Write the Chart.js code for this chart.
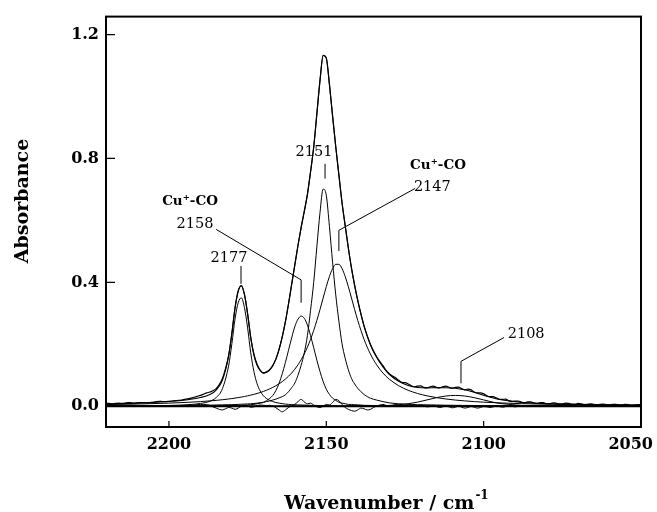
<!DOCTYPE html>
<html>
<head>
<meta charset="utf-8">
<script src="https://cdn.jsdelivr.net/npm/chart.js@4.4.1/dist/chart.umd.min.js"></script>
<style>
  html, body { margin: 0; padding: 0; background: #fff; }
  #wrap { width: 657px; height: 512px; }
</style>
</head>
<body>
<div id="wrap"><canvas id="c" width="657" height="512"></canvas></div>
<script>
// grade comum das componentes do ajuste (cm-1)
const wnFit = [
  2220, 2210, 2200, 2194, 2190, 2187, 2185, 2183, 2181, 2180,
  2179, 2178, 2177, 2176, 2175, 2174, 2173, 2172, 2171, 2170,
  2169, 2168, 2167, 2166, 2165, 2164, 2163, 2162, 2161, 2160,
  2159, 2158, 2157, 2156, 2155, 2154, 2153, 2152, 2151, 2150,
  2149, 2148, 2147, 2146, 2145, 2144, 2143, 2142, 2141, 2140,
  2138, 2136, 2134, 2132, 2130, 2127, 2124, 2121, 2118, 2115,
  2112, 2109, 2106, 2103, 2100, 2096, 2092, 2088, 2083, 2078,
  2070, 2060, 2050
];

// componente 2177
const band2177 = [
  0.0005, 0.001, 0.0025, 0.005, 0.009, 0.016, 0.028, 0.057, 0.133, 0.202,
  0.282, 0.334, 0.350, 0.318, 0.253, 0.172, 0.112, 0.073, 0.049, 0.034,
  0.025, 0.019, 0.015, 0.012, 0.010, 0.0085, 0.007, 0.006, 0.0053, 0.0047,
  0.0043, 0.004, 0.0037, 0.0034, 0.003, 0.0028, 0.0025, 0.0023, 0.002, 0.0018,
  0.0016, 0.0014, 0.0012, 0.001, 0.001, 0.001, 0.001, 0.001, 0.001, 0.001,
  0.0008, 0.0006, 0.0005, 0.0005, 0.0005, 0, 0, 0, 0, 0,
  0, 0, 0, 0, 0, 0, 0, 0, 0, 0,
  0, 0, 0
];

// componente 2158 (Cu+-CO)
const band2158 = [
  0, 0.0003, 0.0005, 0.0008, 0.001, 0.0012, 0.0014, 0.002, 0.0024, 0.0026,
  0.0028, 0.003, 0.0032, 0.0036, 0.0042, 0.005, 0.006, 0.008, 0.010, 0.012,
  0.018, 0.025, 0.035, 0.051, 0.074, 0.105, 0.141, 0.181, 0.221, 0.257,
  0.281, 0.291, 0.284, 0.262, 0.228, 0.189, 0.149, 0.112, 0.080, 0.055,
  0.038, 0.026, 0.019, 0.013, 0.010, 0.008, 0.006, 0.0055, 0.005, 0.0045,
  0.003, 0.0026, 0.0022, 0.0018, 0.0015, 0.0012, 0.001, 0.0008, 0.0006, 0.0005,
  0, 0, 0, 0, 0, 0, 0, 0, 0, 0,
  0, 0, 0
];

// componente 2151
const band2151 = [
  0.001, 0.0015, 0.002, 0.0027, 0.003, 0.0035, 0.004, 0.0045, 0.005, 0.0052,
  0.0055, 0.006, 0.0065, 0.007, 0.0075, 0.008, 0.009, 0.010, 0.0115, 0.013,
  0.015, 0.017, 0.020, 0.023, 0.027, 0.031, 0.037, 0.047, 0.060, 0.075,
  0.100, 0.132, 0.172, 0.228, 0.310, 0.400, 0.515, 0.625, 0.701, 0.681,
  0.580, 0.465, 0.360, 0.275, 0.202, 0.155, 0.118, 0.090, 0.072, 0.058,
  0.038, 0.026, 0.020, 0.015, 0.011, 0.008, 0.0065, 0.005, 0.0045, 0.004,
  0.0033, 0.003, 0.0027, 0.0024, 0.002, 0.0018, 0.0016, 0.0015, 0.0013, 0.0012,
  0.001, 0.0008, 0.0006
];

// componente 2147 (Cu+-CO)
const band2147 = [
  0.0054, 0.0072, 0.0101, 0.0127, 0.015, 0.0173, 0.019, 0.0211, 0.0235, 0.0248,
  0.0263, 0.0279, 0.0296, 0.0315, 0.0336, 0.0359, 0.0384, 0.0412, 0.0443, 0.0478,
  0.0516, 0.056, 0.0608, 0.0663, 0.0725, 0.0795, 0.0876, 0.0968, 0.1073, 0.1195,
  0.1337, 0.150, 0.169, 0.1909, 0.216, 0.2448, 0.2771, 0.3123, 0.3495, 0.3862,
  0.4191, 0.4444, 0.4582, 0.4582, 0.4444, 0.4191, 0.3862, 0.3495, 0.3123, 0.2771,
  0.216, 0.169, 0.1337, 0.1073, 0.0876, 0.0663, 0.0516, 0.0412, 0.0336, 0.0279,
  0.0235, 0.020, 0.0173, 0.015, 0.0132, 0.0113, 0.0097, 0.0084, 0.0072, 0.0062,
  0.005, 0.0039, 0.0031
];

// componente 2108
const band2108 = [
  0, 0, 0, 0, 0, 0, 0, 0, 0, 0,
  0, 0, 0, 0, 0, 0, 0, 0, 0, 0,
  0, 0, 0, 0, 0, 0, 0, 0, 0, 0,
  0, 0, 0, 0, 0, 0, 0, 0, 0, 0,
  0, 0, 0, 0, 0.0004, 0.0005, 0.0006, 0.0007, 0.0008, 0.0009,
  0.001, 0.0013, 0.0015, 0.002, 0.0027, 0.005, 0.008, 0.0133, 0.0205, 0.0277,
  0.033, 0.035, 0.033, 0.0277, 0.0205, 0.011, 0.006, 0.0027, 0.0014, 0.0009,
  0.0002, 0, 0
];

// soma do ajuste
const fitSum = [
  0.0069, 0.010, 0.0151, 0.0212, 0.028, 0.038, 0.0524, 0.0846, 0.164, 0.2346,
  0.3166, 0.3709, 0.3893, 0.3601, 0.2983, 0.2209, 0.1654, 0.1322, 0.1148, 0.1068,
  0.1096, 0.117, 0.1308, 0.1523, 0.1835, 0.224, 0.2726, 0.3308, 0.3936, 0.4562,
  0.519, 0.577, 0.6287, 0.6843, 0.757, 0.8366, 0.9436, 1.0516, 1.1325, 1.124,
  1.0387, 0.9368, 0.8384, 0.7472, 0.6578, 0.5836, 0.5118, 0.4467, 0.3911, 0.3415,
  0.2588, 0.1995, 0.1579, 0.1266, 0.1033, 0.0805, 0.0671, 0.0603, 0.0592, 0.0601,
  0.0598, 0.058, 0.053, 0.0451, 0.0357, 0.0241, 0.0173, 0.0126, 0.0099, 0.0083,
  0.0062, 0.0047, 0.0037
];

// espectro medido, 1 cm-1 por ponto de 2220 a 2050
const wnStart = 2220;
const measured = [
  0.010, 0.009, 0.008, 0.009, 0.010, 0.009, 0.010, 0.012, 0.011, 0.010, // 2220
  0.011, 0.012, 0.012, 0.011, 0.012, 0.013, 0.015, 0.016, 0.015, 0.015, // 2210
  0.016, 0.017, 0.018, 0.019, 0.020, 0.022, 0.024, 0.026, 0.029, 0.032, // 2200
  0.035, 0.039, 0.043, 0.046, 0.050, 0.057, 0.070, 0.090, 0.122, 0.166, // 2190
  0.236, 0.318, 0.372, 0.389, 0.361, 0.298, 0.222, 0.168, 0.136, 0.117, // 2180
  0.108, 0.111, 0.118, 0.132, 0.153, 0.184, 0.224, 0.273, 0.331, 0.394, // 2170
  0.456, 0.519, 0.577, 0.629, 0.684, 0.757, 0.837, 0.944, 1.052, 1.133, // 2160
  1.124, 1.039, 0.937, 0.838, 0.747, 0.657, 0.583, 0.511, 0.446, 0.390, // 2150
  0.341, 0.298, 0.259, 0.228, 0.200, 0.178, 0.160, 0.145, 0.131, 0.116, // 2140
  0.105, 0.098, 0.092, 0.084, 0.077, 0.076, 0.072, 0.066, 0.063, 0.065, // 2130
  0.066, 0.061, 0.059, 0.063, 0.065, 0.061, 0.059, 0.063, 0.065, 0.061, // 2120
  0.058, 0.061, 0.062, 0.057, 0.053, 0.055, 0.053, 0.046, 0.043, 0.043, // 2110
  0.040, 0.034, 0.031, 0.031, 0.027, 0.022, 0.022, 0.023, 0.018, 0.015, // 2100
  0.017, 0.017, 0.013, 0.011, 0.014, 0.014, 0.010, 0.009, 0.012, 0.012, // 2090
  0.008, 0.008, 0.011, 0.010, 0.007, 0.007, 0.010, 0.009, 0.006, 0.006, // 2080
  0.009, 0.008, 0.005, 0.006, 0.008, 0.006, 0.004, 0.006, 0.007, 0.005, // 2070
  0.004, 0.006, 0.006, 0.004, 0.004, 0.006, 0.005, 0.003, 0.004, 0.005, // 2060
  0.004                                                                   // 2050
];

// residuo (medido - ajuste), mesma grade
const residual = [
  0.002, 0.001, 0.000, 0.001, 0.002, 0.001, 0.000, 0.002, 0.003, 0.001,
  0.000, 0.001, 0.002, 0.001, 0.000, -0.001, 0.001, 0.002, 0.001, 0.000,
  0.001, 0.002, 0.002, 0.001, 0.002, 0.002, 0.003, 0.003, 0.004, 0.005,
  0.006, 0.006, 0.005, 0.003, -0.002, -0.006, -0.010, -0.012, -0.008, -0.004,
  -0.006, -0.010, -0.006, 0.000, 0.003, 0.001, -0.003, -0.002, 0.002, 0.004,
  0.003, 0.002, 0.003, 0.001, -0.005, -0.012, -0.018, -0.012, -0.004, 0.002,
  0.006, 0.015, 0.022, 0.014, 0.008, 0.010, 0.004, -0.002, -0.004, 0.000,
  0.006, 0.004, 0.012, 0.022, 0.018, 0.006, -0.004, -0.010, -0.014, -0.016,
  -0.012, -0.006, -0.008, -0.012, -0.010, -0.004, 0.001, 0.004, 0.006, 0.003,
  0.000, 0.002, 0.005, 0.004, 0.001, 0.002, 0.005, 0.003, 0.000, 0.002,
  0.004, 0.001, -0.002, -0.001, 0.002, -0.001, -0.004, -0.002, 0.001, -0.002,
  -0.005, -0.003, 0.000, -0.003, -0.006, -0.004, -0.001, -0.003, -0.006, -0.004,
  -0.001, -0.002, -0.004, -0.002, 0.001, -0.001, -0.003, -0.001, 0.001, 0.000,
  -0.002, 0.000, 0.002, 0.001, -0.001, 0.001, 0.002, 0.000, -0.001, 0.001,
  0.002, 0.000, -0.001, 0.001, 0.001, 0.000, -0.001, 0.000, 0.001, 0.000,
  -0.001, 0.000, 0.001, 0.001, 0.000, -0.001, 0.000, 0.001, 0.000, -0.001,
  0.000, 0.001, 0.000, 0.000, -0.001, 0.000, 0.001, 0.000, -0.001, 0.000,
  0.000
];

// linha de base
const baseWn = [2220, 2050];
const baseAbs = [0, 0];

const xTicks = [2200, 2150, 2100, 2050];
const yTicks = [0.0, 0.4, 0.8, 1.2];

// rótulos das bandas (coordenadas em dados)
const rotulos = [
  { text: '2177', x: 2180.9, y: 0.478 },
  { text: 'Cu\u207A-CO', x: 2193.3, y: 0.661, bold: true },
  { text: '2158', x: 2191.7, y: 0.587 },
  { text: '2151', x: 2153.9, y: 0.821 },
  { text: 'Cu\u207A-CO', x: 2114.5, y: 0.776, bold: true },
  { text: '2147', x: 2116.3, y: 0.706 },
  { text: '2108', x: 2086.5, y: 0.231 }
];
const guias = [
  [[2177.1, 0.453], [2177.1, 0.395]],
  [[2185.0, 0.571], [2158.0, 0.408], [2158.0, 0.334]],
  [[2150.4, 0.783], [2150.4, 0.735]],
  [[2121.8, 0.703], [2146.0, 0.568], [2146.0, 0.501]],
  [[2093.5, 0.222], [2107.2, 0.145], [2107.2, 0.074]]
];

const FONTE = "'DejaVu Serif', serif";

function serie(xs, ys, largura) {
  return {
    data: xs.map((x, i) => ({ x, y: ys[i] })),
    borderColor: '#000',
    borderWidth: largura,
    pointRadius: 0,
    fill: false,
    cubicInterpolationMode: 'monotone'
  };
}

const wnMeas = measured.map((_, i) => wnStart - i);

const decor = {
  id: 'decor',
  afterDatasetsDraw(chart) {
    const { ctx, chartArea: a, scales: { x, y } } = chart;
    ctx.save();
    ctx.strokeStyle = '#000';
    ctx.fillStyle = '#000';

    // moldura
    ctx.lineWidth = 2;
    ctx.strokeRect(a.left, a.top, a.right - a.left, a.bottom - a.top);

    // marcas para dentro
    ctx.lineWidth = 1.2;
    ctx.beginPath();
    yTicks.forEach(v => {
      const py = y.getPixelForValue(v);
      ctx.moveTo(a.left, py); ctx.lineTo(a.left + 9, py);
    });
    xTicks.forEach(v => {
      const px = x.getPixelForValue(v);
      ctx.moveTo(px, a.bottom); ctx.lineTo(px, a.bottom - 6);
    });
    ctx.stroke();

    // números do eixo x (o último fica encostado na borda)
    ctx.font = `bold 16px ${FONTE}`;
    ctx.textBaseline = 'top';
    ctx.textAlign = 'center';
    xTicks.forEach(v => {
      const txt = String(v);
      const w = ctx.measureText(txt).width;
      let px = x.getPixelForValue(v);
      if (px + w / 2 > chart.width - 4) px = chart.width - 4 - w / 2;
      ctx.fillText(txt, px, a.bottom + 10);
    });

    // linhas guia
    ctx.lineWidth = 1;
    guias.forEach(g => {
      ctx.beginPath();
      g.forEach(([wx, wy], i) => {
        const px = x.getPixelForValue(wx), py = y.getPixelForValue(wy);
        if (i === 0) ctx.moveTo(px, py); else ctx.lineTo(px, py);
      });
      ctx.stroke();
    });

    // rótulos
    ctx.textAlign = 'center';
    ctx.textBaseline = 'middle';
    rotulos.forEach(r => {
      ctx.font = r.bold ? `bold 13.5px ${FONTE}` : `14.5px ${FONTE}`;
      ctx.fillText(r.text, x.getPixelForValue(r.x), y.getPixelForValue(r.y));
    });

    // títulos dos eixos
    ctx.font = `bold 19px ${FONTE}`;
    ctx.save();
    ctx.translate(23, 201);
    ctx.rotate(-Math.PI / 2);
    ctx.fillText('Absorbance', 0, 0);
    ctx.restore();

    const principal = 'Wavenumber / cm';
    const sup = '-1';
    const w1 = ctx.measureText(principal).width;
    ctx.font = `bold 12px ${FONTE}`;
    const w2 = ctx.measureText(sup).width;
    const x0 = 386 - (w1 + w2) / 2;
    ctx.textAlign = 'left';
    ctx.textBaseline = 'alphabetic';
    ctx.font = `bold 19px ${FONTE}`;
    ctx.fillText(principal, x0, 509);
    ctx.font = `bold 12px ${FONTE}`;
    ctx.fillText(sup, x0 + w1 + 1, 499);

    ctx.restore();
  }
};

new Chart(document.getElementById('c'), {
  type: 'line',
  data: {
    datasets: [
      serie(wnFit, band2177, 1),
      serie(wnFit, band2158, 1),
      serie(wnFit, band2151, 1),
      serie(wnFit, band2147, 1),
      serie(wnFit, band2108, 1),
      serie(wnFit, fitSum, 1.1),
      serie(wnMeas, measured, 1.2),
      serie(wnMeas, residual, 1),
      { ...serie(baseWn, baseAbs, 2), cubicInterpolationMode: 'default' }
    ]
  },
  options: {
    responsive: false,
    animation: false,
    devicePixelRatio: 1,
    layout: { padding: { left: 0, right: 16, top: 14, bottom: 0 } },
    plugins: { legend: { display: false }, tooltip: { enabled: false } },
    scales: {
      x: {
        type: 'linear',
        reverse: true,
        min: 2050,
        max: 2220,
        afterFit: s => { s.height = 85; s.paddingLeft = 0; s.paddingRight = 0; },
        grid: { display: false, drawTicks: false },
        border: { display: false },
        ticks: { display: false, stepSize: 50, includeBounds: false }
      },
      y: {
        min: -0.067,
        max: 1.258,
        afterFit: s => { s.width = 106; },
        grid: { display: false, drawTicks: false },
        border: { display: false },
        ticks: {
          stepSize: 0.4,
          includeBounds: false,
          padding: 7,
          color: '#000',
          font: { family: FONTE, size: 16, weight: 'bold' },
          callback: v => Number(v).toFixed(1)
        }
      }
    }
  },
  plugins: [decor]
});
</script>
</body>
</html>
